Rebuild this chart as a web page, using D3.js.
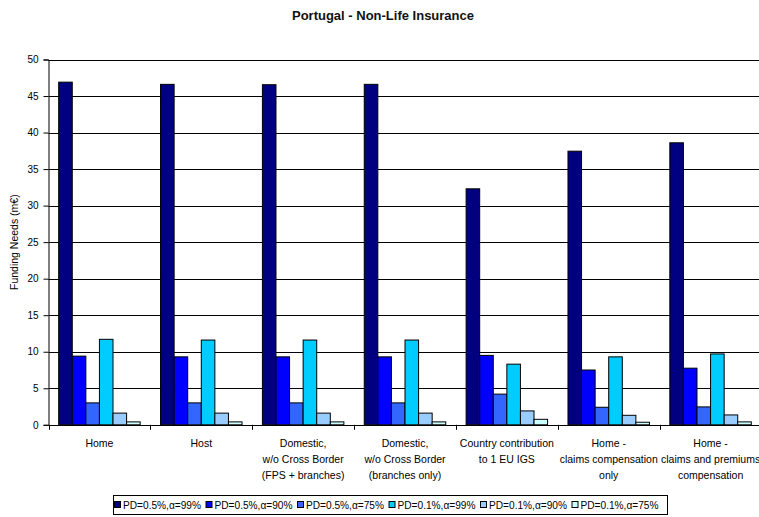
<!DOCTYPE html>
<html>
<head>
<meta charset="utf-8">
<script src="https://cdn.jsdelivr.net/npm/d3@7/dist/d3.min.js"></script>
<style>
  html, body { margin: 0; padding: 0; background: #fff; }
  svg { display: block; font-family: "Liberation Sans", Arial, sans-serif; }
</style>
</head>
<body>
<svg id="chart" width="759" height="517"></svg>
<script>
// Category labels (one array per line of text)
const categories = [
  ["Home"],
  ["Host"],
  ["Domestic,", "w/o Cross Border", "(FPS + branches)"],
  ["Domestic,", "w/o Cross Border", "(branches only)"],
  ["Country contribution", "to 1 EU IGS"],
  ["Home -", "claims compensation", "only"],
  ["Home -", "claims and premiums", "compensation"]
];

const seriesNames = [
  "PD=0.5%,\u03b1=99%",
  "PD=0.5%,\u03b1=90%",
  "PD=0.5%,\u03b1=75%",
  "PD=0.1%,\u03b1=99%",
  "PD=0.1%,\u03b1=90%",
  "PD=0.1%,\u03b1=75%"
];

// Funding needs (m€) per series, one value per category
const pd05a99 = [46.9, 46.6, 46.55, 46.6, 32.3, 37.45, 38.6];
const pd05a90 = [9.4, 9.3, 9.3, 9.3, 9.5, 7.5, 7.75];
const pd05a75 = [3.0, 3.0, 3.0, 3.0, 4.2, 2.4, 2.45];
const pd01a99 = [11.7, 11.6, 11.6, 11.6, 8.3, 9.3, 9.7];
const pd01a90 = [1.6, 1.6, 1.6, 1.6, 1.9, 1.3, 1.35];
const pd01a75 = [0.4, 0.4, 0.4, 0.4, 0.75, 0.35, 0.4];

const seriesValues = [pd05a99, pd05a90, pd05a75, pd01a99, pd01a90, pd01a75];
const colors = ["#000080", "#0000FF", "#3366FF", "#00CCFF", "#99CCFF", "#CCFFFF"];

const yTicks = [0, 5, 10, 15, 20, 25, 30, 35, 40, 45, 50];

const svg = d3.select("#chart");

const plot = { left: 48.5, right: 761.5, top: 59.5, bottom: 424.8 };

const x = d3.scaleBand()
  .domain(d3.range(categories.length))
  .range([plot.left, plot.right])
  .paddingInner(0).paddingOuter(0);

const xInner = d3.scaleBand()
  .domain(d3.range(seriesNames.length))
  .range([0, x.bandwidth()])
  .paddingInner(0).paddingOuter(0.75);

const y = d3.scaleLinear().domain([0, 50]).range([plot.bottom, plot.top]);

// Title
svg.append("text")
  .attr("x", 383).attr("y", 20)
  .attr("text-anchor", "middle")
  .attr("font-size", 13).attr("font-weight", "bold")
  .attr("fill", "#111")
  .text("Portugal - Non-Life Insurance");

// Horizontal gridlines
svg.append("g")
  .selectAll("line")
  .data(yTicks.filter(d => d > 0))
  .join("line")
  .attr("x1", plot.left).attr("x2", plot.right)
  .attr("y1", d => Math.round(y(d)) + 0.5).attr("y2", d => Math.round(y(d)) + 0.5)
  .attr("stroke", "#000").attr("stroke-width", 1);

// Bars
const groups = svg.append("g")
  .selectAll("g")
  .data(categories.map((c, i) => i))
  .join("g")
  .attr("transform", i => `translate(${x(i)},0)`);

groups.selectAll("rect")
  .data(i => seriesValues.map((vals, s) => ({ s, v: vals[i] })))
  .join("rect")
  .attr("x", d => xInner(d.s))
  .attr("width", xInner.bandwidth())
  .attr("y", d => y(d.v))
  .attr("height", d => y(0) - y(d.v))
  .attr("fill", d => colors[d.s])
  .attr("stroke", "#000").attr("stroke-width", 1);

// Y axis
const yAxis = svg.append("g")
  .attr("transform", `translate(${plot.left},0)`)
  .call(d3.axisLeft(y).tickValues(yTicks).tickSize(5).tickPadding(5))
  .call(g => g.select(".domain").attr("stroke", "#000"));
yAxis.selectAll("text").attr("font-size", 10).attr("fill", "#000")
  .attr("font-family", "'Liberation Sans', Arial, sans-serif");
yAxis.selectAll("line").attr("stroke", "#000");

// X axis line and boundary ticks
const xg = svg.append("g");
xg.append("line")
  .attr("x1", plot.left).attr("x2", plot.right)
  .attr("y1", Math.round(y(0)) + 0.5).attr("y2", Math.round(y(0)) + 0.5)
  .attr("stroke", "#000");
xg.selectAll("line.tick")
  .data(d3.range(categories.length + 1))
  .join("line")
  .attr("class", "tick")
  .attr("x1", i => Math.round(plot.left + i * x.step()) + 0.5)
  .attr("x2", i => Math.round(plot.left + i * x.step()) + 0.5)
  .attr("y1", y(0)).attr("y2", y(0) + 5)
  .attr("stroke", "#000");

// Category labels
svg.append("g")
  .selectAll("text")
  .data(categories)
  .join("text")
  .attr("text-anchor", "middle")
  .attr("font-size", 10.5)
  .attr("fill", "#000")
  .attr("transform", (d, i) => `translate(${x(i) + x.bandwidth() / 2},446.5)`)
  .selectAll("tspan")
  .data(d => d)
  .join("tspan")
  .attr("x", 0)
  .attr("y", (d, j) => j * 16)
  .text(d => d);

// Y axis title
svg.append("text")
  .attr("transform", `translate(18,${(plot.top + plot.bottom) / 2}) rotate(-90)`)
  .attr("text-anchor", "middle")
  .attr("font-size", 10.5)
  .attr("fill", "#000")
  .text("Funding Needs (m\u20ac)");

// Legend
const legend = svg.append("g");
legend.append("rect")
  .attr("x", 113.5).attr("y", 495.5)
  .attr("width", 554).attr("height", 19)
  .attr("fill", "#fff").attr("stroke", "#000");

const items = legend.selectAll("g.item")
  .data(seriesNames)
  .join("g")
  .attr("class", "item")
  .attr("transform", (d, i) => `translate(${114 + i * 91.5},505)`);

items.append("rect")
  .attr("x", 0.5).attr("y", -3.5)
  .attr("width", 6).attr("height", 6)
  .attr("fill", (d, i) => colors[i])
  .attr("stroke", "#000");

items.append("text")
  .attr("x", 9).attr("y", 3.8)
  .attr("font-size", 10)
  .attr("textLength", 78)
  .attr("lengthAdjust", "spacingAndGlyphs")
  .attr("fill", "#000")
  .text(d => d);
</script>
</body>
</html>
